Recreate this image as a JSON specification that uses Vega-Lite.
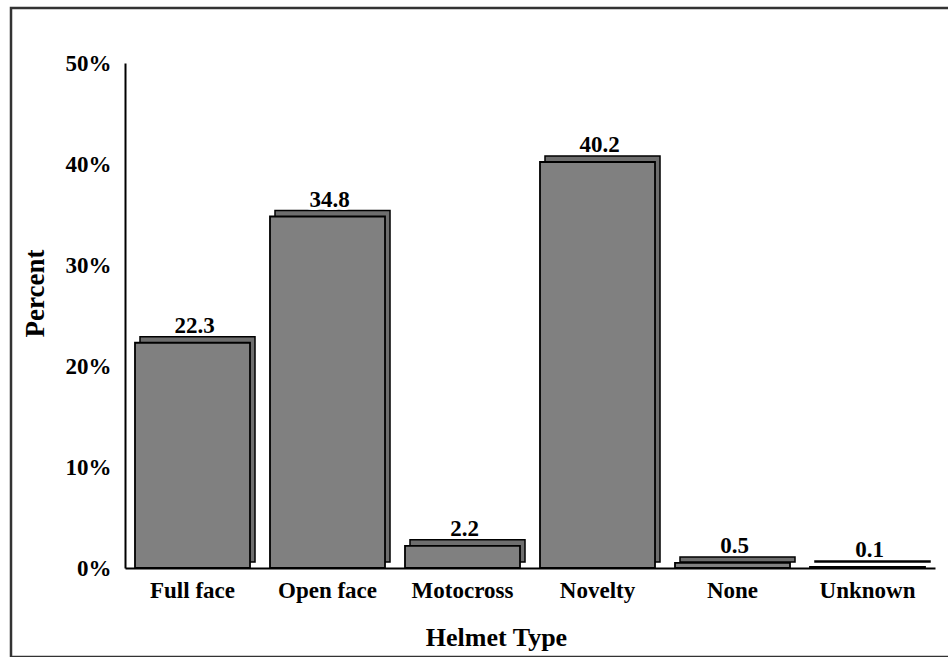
{
  "$schema": "https://vega.github.io/schema/vega-lite/v6.json",
  "width": 1000,
  "height": 649,
  "autosize": {"type": "none"},
  "padding": {"left": 11, "top": 8, "right": 0, "bottom": 0},
  "background": "white",
  "config": {
    "view": {"stroke": "#333333", "strokeWidth": 2.5},
    "font": "Liberation Serif"
  },
  "data": {
    "values": [
      {"type": "Full face", "pct": 22.3},
      {"type": "Open face", "pct": 34.8},
      {"type": "Motocross", "pct": 2.2},
      {"type": "Novelty", "pct": 40.2},
      {"type": "None", "pct": 0.5},
      {"type": "Unknown", "pct": 0.1}
    ]
  },
  "encoding": {
    "x": {
      "field": "type",
      "type": "nominal",
      "sort": null,
      "scale": {"range": [114, 924], "paddingInner": 0.148, "paddingOuter": 0.074},
      "axis": {
        "title": "Helmet Type",
        "orient": "bottom",
        "offset": -89,
        "ticks": false,
        "domainColor": "black",
        "domainWidth": 2,
        "labelAngle": 0,
        "labelFont": "Liberation Serif",
        "labelFontWeight": "bold",
        "labelFontSize": 23,
        "labelColor": "black",
        "labelPadding": 11,
        "titleFont": "Liberation Serif",
        "titleFontSize": 26,
        "titleFontWeight": "bold",
        "titleColor": "black",
        "titleX": 485,
        "titleY": 69,
        "titleBaseline": "middle"
      }
    },
    "y": {
      "field": "pct",
      "type": "quantitative",
      "scale": {"domain": [0, 50], "range": [560, 55], "nice": false},
      "axis": {
        "title": "Percent",
        "orient": "left",
        "offset": -114,
        "values": [0, 10, 20, 30, 40, 50],
        "labelExpr": "datum.value + '%'",
        "ticks": false,
        "grid": false,
        "domainColor": "black",
        "domainWidth": 2,
        "labelFont": "Liberation Serif",
        "labelFontWeight": "bold",
        "labelFontSize": 23,
        "labelColor": "black",
        "labelPadding": 14,
        "titleFont": "Liberation Serif",
        "titleFontSize": 27,
        "titleFontWeight": "bold",
        "titleColor": "black",
        "titleAngle": -90,
        "titleX": -90,
        "titleY": 285,
        "titleBaseline": "middle"
      }
    }
  },
  "layer": [
    {"mark": {"type": "bar", "xOffset": 5, "yOffset": -6, "fill": "#6e6e6e", "stroke": "black", "strokeWidth": 1.5}},
    {"mark": {"type": "bar", "fill": "#808080", "stroke": "black", "strokeWidth": 1.8}},
    {
      "mark": {"type": "text", "baseline": "alphabetic", "dy": -10, "xOffset": 2, "font": "Liberation Serif", "fontWeight": "bold", "fontSize": 23, "fill": "white", "stroke": "white", "strokeWidth": 6},
      "encoding": {"text": {"field": "pct", "type": "quantitative", "format": ".1f"}}
    },
    {
      "mark": {"type": "text", "baseline": "alphabetic", "dy": -10, "xOffset": 2, "font": "Liberation Serif", "fontWeight": "bold", "fontSize": 23, "fill": "black"},
      "encoding": {"text": {"field": "pct", "type": "quantitative", "format": ".1f"}}
    }
  ]
}
